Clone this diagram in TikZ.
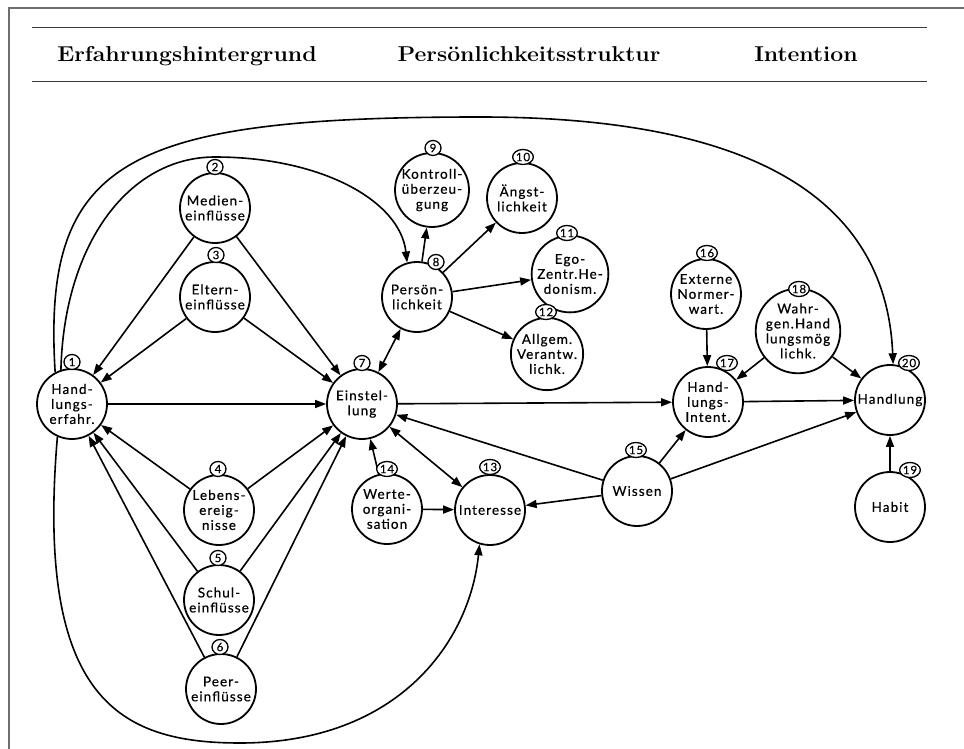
\documentclass[tikz,border=0pt]{standalone}
\usepackage{fontspec}
\usepackage{graphicx}
\newfontfamily\nodefont[LetterSpace=8,FakeBold=0.5]{Lato}
\usetikzlibrary{arrows.meta,shapes.geometric}
\definecolor{framegray}{HTML}{6E6E6E}
\definecolor{rulegray}{HTML}{3A3A3A}
\begin{document}
\begin{tikzpicture}[x=1pt,y=-1pt,
  nd/.style={circle,draw,line width=1.8pt,minimum size=70pt,inner sep=0pt,align=center,
    font=\nodefont\fontsize{13.5}{15}\selectfont},
  num/.style={ellipse,draw,line width=1.3pt,fill=white,inner sep=0.2pt,minimum width=16pt,
    minimum height=15pt,font=\nodefont\fontsize{11.5}{11.5}\selectfont},
  arr/.style={line width=1.6pt,-{Triangle[length=11pt,width=8pt]}},
  darr/.style={line width=1.6pt,{Triangle[length=11pt,width=8pt]}-{Triangle[length=11pt,width=8pt]}},
  hdr/.style={anchor=base,inner sep=0pt,font=\bfseries\fontsize{21.5}{24}\selectfont}
]
\useasboundingbox (0,0) rectangle (964,749);
\fill[white] (0,0) rectangle (964,749);
% frame
\draw[framegray,line width=2pt] (9,749) -- (9,8) -- (964,8);
% header
\draw[rulegray,line width=0.9pt] (32,27) -- (927,27);
\draw[rulegray,line width=0.9pt] (32,81) -- (927,81);
\node[hdr] (h1) at (187,62) {\scalebox{1.07}[1]{Erfahrungshintergrund}};
\node[hdr] (h2) at (529,62) {\scalebox{1.07}[1]{Persönlichkeitsstruktur}};
\node[hdr] (h3) at (806,62) {\scalebox{1.07}[1]{Intention}};
% nodes
\node[nd] (n1) at (72,404) {Hand-\\lungs-\\erfahr.};
\node[nd] (n2) at (215,208) {Medien-\\einflüsse};
\node[nd] (n3) at (215,297) {Eltern-\\einflüsse};
\node[nd] (n4) at (219,510) {Lebens-\\ereig-\\nisse};
\node[nd] (n5) at (219,600) {Schul-\\einflüsse};
\node[nd] (n6) at (221,689) {Peer-\\einflüsse};
\node[nd] (n7) at (362,404) {Einstel-\\lung};
\node[nd] (n8) at (417,297) {Persön-\\lichkeit};
\node[nd] (n9) at (432,190) {Kontroll-\\überzeu-\\gung};
\node[nd] (n10) at (522,198) {Ängst-\\lichkeit};
\node[nd] (n11) at (570,274) {Ego-\\Zentr.He-\\donism.};
\node[nd] (n12) at (547,354) {Allgem.\\Verantw.\\lichk.};
\node[nd] (n13) at (490,510) {Interesse};
\node[nd] (n14) at (387,509) {Werte-\\organi-\\sation};
\node[nd] (n15) at (637,491) {Wissen};
\node[nd] (n16) at (706,294) {Externe\\Normer-\\wart.};
\node[nd] (n17) at (708,402) {Hand-\\lungs-\\Intent.};
\node[nd] (n18) at (798,331) {Wahr-\\gen.Hand\\lungsmög\\lichk.};
\node[nd] (n19) at (890,507) {Habit};
\node[nd] (n20) at (890,400) {Handlung};
% straight connectors
\draw[arr] (n1) -- (n7);
\draw[arr] (n2) -- (n1);
\draw[arr] (n2) -- (n7);
\draw[arr] (n3) -- (n1);
\draw[arr] (n3) -- (n7);
\draw[arr] (n4) -- (n1);
\draw[arr] (n4) -- (n7);
\draw[arr] (n5) -- (n1);
\draw[arr] (n5) -- (n7);
\draw[arr] (n6) -- (n1);
\draw[arr] (n6) -- (n7);
\draw[darr] (n7) -- (n8);
\draw[arr] (n8) -- (n9);
\draw[arr] (n8) -- (n10);
\draw[arr] (n8) -- (n11);
\draw[arr] (n8) -- (n12);
\draw[arr] (n7) -- (n17);
\draw[darr] (n7) -- (n13);
\draw[arr] (n14) -- (n7);
\draw[arr] (n14) -- (n13);
\draw[arr] (n15) -- (n7);
\draw[arr] (n15) -- (n13);
\draw[arr] (n15) -- (n17);
\draw[arr] (n15) -- (n20);
\draw[arr] (n16) -- (n17);
\draw[arr] (n18) -- (n17);
\draw[arr] (n18) -- (n20);
\draw[arr] (n17) -- (n20);
\draw[arr] (n19) -- (n20);
% curved connectors
\draw[arr] (n1.118) .. controls (42,160) and (125,117) .. (480,117)
  .. controls (700,117) and (885,170) .. (n20.85);
\draw[arr] (n1.108) .. controls (64,245) and (128,157) .. (215,157)
  .. controls (320,157) and (400,200) .. (n8.106);
\draw[arr] (n1.246) .. controls (35,700) and (120,743) .. (240,743)
  .. controls (400,743) and (470,640) .. (n13.253);
% number labels
\node[num] (l1) at (72,362) {1};
\node[num] (l2) at (215,167) {2};
\node[num] (l3) at (216,255) {3};
\node[num] (l4) at (218,469) {4};
\node[num] (l5) at (218,558) {5};
\node[num] (l6) at (220,647) {6};
\node[num] (l7) at (362,363) {7};
\node[num] (l8) at (436,262) {8};
\node[num] (l9) at (433,148) {9};
\node[num] (l10) at (523,157) {10};
\node[num] (l11) at (567,233) {11};
\node[num] (l12) at (546,312) {12};
\node[num] (l13) at (490,467) {13};
\node[num] (l14) at (387,469) {14};
\node[num] (l15) at (636,450) {15};
\node[num] (l16) at (707,253) {16};
\node[num] (l17) at (727,363) {17};
\node[num] (l18) at (799,289) {18};
\node[num] (l19) at (910,470) {19};
\node[num] (l20) at (909,363) {20};
\end{tikzpicture}
\end{document}
